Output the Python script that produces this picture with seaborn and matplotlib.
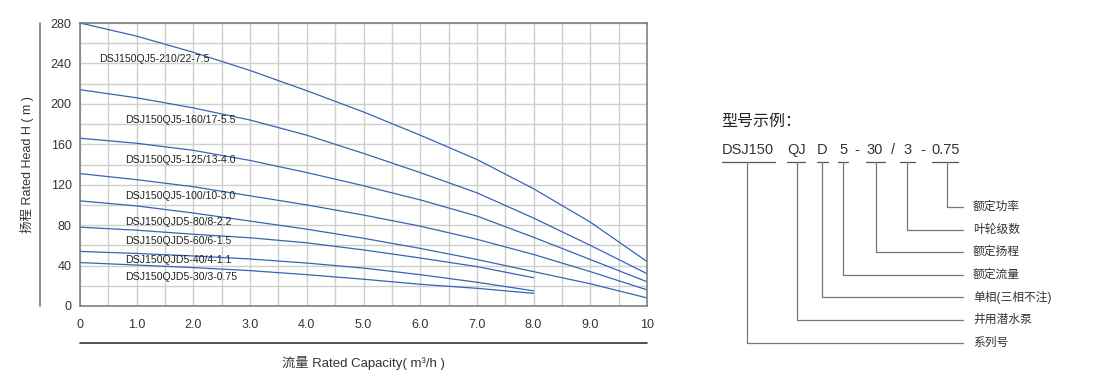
import numpy as np
import pandas as pd
import matplotlib
matplotlib.use("Agg")
import matplotlib.pyplot as plt
import seaborn as sns

# ---- data ----
flow_long = [0, 1, 2, 3, 4, 5, 6, 7, 8, 9, 10]
flow_short = [0, 1, 2, 3, 4, 5, 6, 7, 8]

head_210 = [280, 267, 251, 233, 213, 192, 169, 145, 116, 83, 44]
head_160 = [214, 206, 196, 184, 169, 151, 132, 112, 87, 60, 32]
head_125 = [166, 161, 154, 144, 132, 119, 105, 89, 68, 46, 24]
head_100 = [131, 125, 118, 109, 100, 90, 79, 66, 51, 34, 16]
head_80 = [104, 99, 92, 84, 76, 67, 57, 46, 34, 22, 8]
head_60 = [78, 75, 71, 67.5, 62.5, 55.5, 47.5, 39, 28]
head_40 = [54, 52, 49.5, 46.5, 42.5, 37.5, 31, 23.5, 15]
head_30 = [43, 40.5, 38, 35, 31, 26.5, 21.5, 17.5, 12.5]

models = ["DSJ150QJ5-210/22-7.5", "DSJ150QJ5-160/17-5.5", "DSJ150QJ5-125/13-4.0",
          "DSJ150QJ5-100/10-3.0", "DSJ150QJD5-80/8-2.2", "DSJ150QJD5-60/6-1.5",
          "DSJ150QJD5-40/4-1.1", "DSJ150QJD5-30/3-0.75"]
heads = [head_210, head_160, head_125, head_100, head_80, head_60, head_40, head_30]
flows = [flow_long] * 5 + [flow_short] * 3

# label anchor (flow, head) for each curve name
label_x = [0.33, 0.79, 0.79, 0.79, 0.79, 0.79, 0.79, 0.79]
label_y = [244, 184, 144, 109, 83, 64, 45.5, 29]

xticks = [0, 1, 2, 3, 4, 5, 6, 7, 8, 9, 10]
xticklabels = ["0", "1.0", "2.0", "3.0", "4.0", "5.0", "6.0", "7.0", "8.0", "9.0", "10"]
yticks = [0, 40, 80, 120, 160, 200, 240, 280]

code_parts = ["DSJ150", "QJ", "D", "5", "-", "30", "/", "3", "-", "0.75"]
code_meaning = ["额定功率", "叶轮级数", "额定扬程", "额定流量", "单相(三相不注)", "井用潜水泵", "系列号"]

rows = []
for m, f, h in zip(models, flows, heads):
    for xv, yv in zip(f, h):
        rows.append({"model": m, "flow": xv, "head": yv})
df = pd.DataFrame(rows)

sns.set_style("white")
plt.rcParams["font.family"] = ["Liberation Sans", "Noto Sans CJK SC", "DejaVu Sans"]

fig = plt.figure(figsize=(11, 3.9), dpi=100)
W, H = 1100, 390
ax = fig.add_axes([80 / W, 1 - 306 / H, (647 - 80) / W, (306 - 23) / H])

line_color = "#3765b3"
sns.lineplot(data=df, x="flow", y="head", units="model", estimator=None,
             color=line_color, linewidth=0.9, ax=ax, sort=False)

ax.set_xlim(0, 10)
ax.set_ylim(0, 280)
ax.set_xticks(xticks)
ax.set_xticklabels(xticklabels)
ax.set_yticks(yticks)
ax.set_xticks(np.arange(0, 10.01, 0.5), minor=True)
ax.set_yticks(np.arange(0, 281, 20), minor=True)
ax.grid(which="both", color="#cfcfcf", linewidth=1.0)
ax.set_axisbelow(True)
ax.tick_params(which="both", length=0, labelsize=9, colors="#333333", pad=6)
ax.tick_params(axis="x", pad=9)
for s in ax.spines.values():
    s.set_color("#777777")
    s.set_linewidth(1.1)
ax.set_xlabel("")
ax.set_ylabel("")

for name, lx, ly in zip(models, label_x, label_y):
    ax.text(lx, ly, name, fontsize=7.6, color="#222222", va="center", ha="left")

# overlay in pixel coordinates for outer axis lines and model code diagram
ov = fig.add_axes([0, 0, 1, 1])
ov.set_xlim(0, W)
ov.set_ylim(H, 0)
ov.axis("off")
ov.patch.set_alpha(0)

ov.plot([40, 40], [23, 306], color="#777777", lw=1.2)
ov.plot([80, 647], [343, 343], color="#333333", lw=1.2)
ov.text(27, 165, "扬程 Rated Head H ( m )", rotation=90, fontsize=9,
        color="#333333", ha="center", va="center")
ov.text(363, 363, "流量 Rated Capacity( m³/h )", fontsize=9.5,
        color="#333333", ha="center", va="center")

ov.text(721, 121, "型号示例：", fontsize=11.5, color="#222222", ha="left", va="center")

part_x = [748, 796.5, 822.5, 843.5, 857, 875, 893, 907.5, 923, 945.5]
for t, px in zip(code_parts, part_x):
    ov.text(px, 150, t, fontsize=10.5, color="#333333", ha="center", va="center")

underlines = [(722, 775), (787, 805), (817, 828), (838, 848), (866, 885), (900, 915), (932, 958)]
for a, b in underlines:
    ov.plot([a, b], [161.5, 161.5], color="#555555", lw=0.9)

drop_x = [947.3, 906.7, 875.7, 843.3, 821.7, 796.7, 746.7]
drop_y = [206.7, 229.5, 252, 274.7, 297.3, 320, 342.7]
for dx, dy, txt in zip(drop_x, drop_y, code_meaning):
    ov.plot([dx, dx, 963], [161.5, dy, dy], color="#777777", lw=0.9)
    ov.text(973, dy, txt, fontsize=8.5, color="#333333", ha="left", va="center")

fig.savefig("out.png", dpi=100)
